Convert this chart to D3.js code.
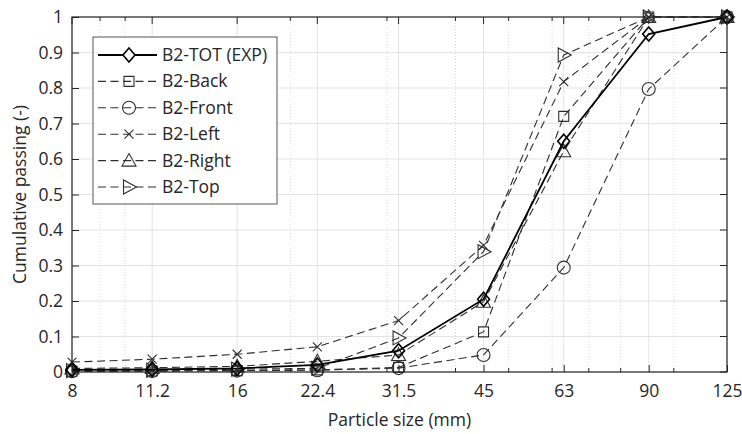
<!DOCTYPE html>
<html>
<head>
<meta charset="utf-8">
<script src="https://cdn.jsdelivr.net/npm/d3@7"></script>
<style>
  body { margin: 0; background: #fff; }
  svg { font-family: "Open Sans", "Noto Sans", sans-serif; }
</style>
</head>
<body>
<script>
// particle sizes (mm) and cumulative passing per sample
var sizes = [8, 11.2, 16, 22.4, 31.5, 45, 63, 90, 125];
var minorTicks = [9, 10, 20, 30, 40, 50, 60, 70, 80, 100];
var yTicks = [0, 0.1, 0.2, 0.3, 0.4, 0.5, 0.6, 0.7, 0.8, 0.9, 1];
var yTickLabels = ["0", "0.1", "0.2", "0.3", "0.4", "0.5", "0.6", "0.7", "0.8", "0.9", "1"];

var names = ["B2-TOT (EXP)", "B2-Back", "B2-Front", "B2-Left", "B2-Right", "B2-Top"];
var tot   = [0.006, 0.007, 0.010, 0.020, 0.060, 0.205, 0.650, 0.952, 1];
var back  = [0.002, 0.003, 0.004, 0.006, 0.013, 0.113, 0.720, 1, 1];
var front = [0.002, 0.003, 0.004, 0.005, 0.011, 0.048, 0.294, 0.797, 1];
var left  = [0.028, 0.036, 0.050, 0.071, 0.145, 0.357, 0.818, 1, 1];
var right = [0.010, 0.012, 0.016, 0.030, 0.048, 0.198, 0.622, 1, 1];
var top_  = [0.004, 0.005, 0.008, 0.010, 0.096, 0.339, 0.893, 1, 1];

(() => {
    var W = 742, H = 434;
    var margin = { top: 17, bottom: 62, left: 72, right: 15 };
    var w = W - margin.left - margin.right,
        h = H - margin.top - margin.bottom;
    var fs = "17.5px";

    var svg = d3.select("body").append("svg").attr("width", W).attr("height", H);
    var graph = svg.append("g").attr("transform", "translate(" + [margin.left, margin.top] + ")");

    var x = d3.scaleLog().domain([8, 125]).range([0, w]);
    var y = d3.scaleLinear().domain([0, 1]).range([h, 0]);

    var axisColor = "#262626";

    // minor grid (dotted)
    graph.append("g").selectAll("line").data(minorTicks).enter().append("line")
        .attr("x1", d => x(d)).attr("x2", d => x(d)).attr("y1", 0).attr("y2", h)
        .attr("stroke", "#d0d0d0").attr("stroke-width", 0.8).attr("stroke-dasharray", "1,2");

    // major grid
    graph.append("g").selectAll("line").data(sizes).enter().append("line")
        .attr("x1", d => x(d)).attr("x2", d => x(d)).attr("y1", 0).attr("y2", h)
        .attr("stroke", "#e3e3e3").attr("stroke-width", 1);
    graph.append("g").selectAll("line").data(yTicks).enter().append("line")
        .attr("x1", 0).attr("x2", w).attr("y1", d => y(d)).attr("y2", d => y(d))
        .attr("stroke", "#e3e3e3").attr("stroke-width", 1);

    // series
    var series = [
        { name: names[0], values: tot, marker: "diamond", solid: true },
        { name: names[1], values: back, marker: "square" },
        { name: names[2], values: front, marker: "circle" },
        { name: names[3], values: left, marker: "cross" },
        { name: names[4], values: right, marker: "triUp" },
        { name: names[5], values: top_, marker: "triRight" }
    ];

    function markerPath(type) {
        switch (type) {
            case "diamond": return "M0,-7L6,0L0,7L-6,0Z";
            case "square": return "M-5,-5H5V5H-5Z";
            case "circle": return "M6.5,0A6.5,6.5 0 1,1 -6.5,0A6.5,6.5 0 1,1 6.5,0Z";
            case "cross": return "M-4.5,-4.5L4.5,4.5M-4.5,4.5L4.5,-4.5";
            case "triUp": return "M0,-7L7,5.5L-7,5.5Z";
            case "triRight": return "M7.5,0L-5.5,-7L-5.5,7Z";
        }
    }

    var line = d3.line().x((d, i) => x(sizes[i])).y(d => y(d));
    var dashCol = "#2e2e2e";

    var drawOrder = [1, 2, 3, 4, 5, 0];
    drawOrder.forEach(k => {
        var s = series[k];
        var g = graph.append("g");
        g.append("path").attr("d", line(s.values)).attr("fill", "none")
            .attr("stroke", s.solid ? "#000" : dashCol)
            .attr("stroke-width", s.solid ? 1.8 : 1.1)
            .attr("stroke-dasharray", s.solid ? null : "8,4.5");
        g.selectAll(".mk").data(s.values).enter().append("path").attr("class", "mk")
            .attr("transform", (d, i) => "translate(" + [x(sizes[i]), y(d)] + ")")
            .attr("d", markerPath(s.marker))
            .attr("fill", "none")
            .attr("stroke", s.solid ? "#000" : dashCol)
            .attr("stroke-width", s.solid ? 1.6 : 1.1);
    });

    // box + ticks
    var xAxis = d3.axisBottom(x).tickValues(sizes).tickFormat(d => "" + d).tickSize(-7).tickPadding(13);
    var xg = graph.append("g").attr("transform", "translate(0," + h + ")").call(xAxis);
    var yAxis = d3.axisLeft(y).tickValues(yTicks).tickFormat((d, i) => yTickLabels[i]).tickSize(-7).tickPadding(9);
    var yg = graph.append("g").call(yAxis);
    [xg, yg].forEach(g => {
        g.select(".domain").remove();
        g.selectAll("line").attr("stroke", axisColor);
        g.selectAll("text").attr("fill", axisColor).style("font-size", fs)
            .style("font-family", "'Open Sans', sans-serif");
    });

    // top / right ticks
    var tk = graph.append("g").attr("stroke", axisColor).attr("stroke-width", 1);
    sizes.forEach(d => {
        tk.append("line").attr("x1", x(d)).attr("x2", x(d)).attr("y1", 0).attr("y2", 7);
    });
    minorTicks.forEach(d => {
        tk.append("line").attr("x1", x(d)).attr("x2", x(d)).attr("y1", 0).attr("y2", 4);
        tk.append("line").attr("x1", x(d)).attr("x2", x(d)).attr("y1", h).attr("y2", h - 4);
    });
    yTicks.forEach(d => {
        tk.append("line").attr("x1", w).attr("x2", w - 7).attr("y1", y(d)).attr("y2", y(d));
    });

    graph.append("rect").attr("width", w).attr("height", h)
        .attr("fill", "none").attr("stroke", axisColor).attr("stroke-width", 1.2);

    // axis labels
    svg.append("text").attr("x", margin.left + w / 2).attr("y", 426)
        .attr("text-anchor", "middle").attr("fill", axisColor).style("font-size", fs)
        .text("Particle size (mm)");
    svg.append("text").attr("transform", "translate(26," + (margin.top + h / 2) + ")rotate(-90)")
        .attr("text-anchor", "middle").attr("fill", axisColor).style("font-size", fs)
        .text("Cumulative passing (-)");

    // legend
    var lg = svg.append("g").attr("transform", "translate(93,37)");
    lg.append("rect").attr("width", 184).attr("height", 167)
        .attr("fill", "#fff").attr("stroke", "#555").attr("stroke-width", 1);
    series.forEach((s, i) => {
        var yy = 18 + i * 26.4;
        var row = lg.append("g").attr("transform", "translate(0," + yy + ")");
        row.append("line").attr("x1", 5).attr("x2", 64).attr("y1", 0).attr("y2", 0)
            .attr("stroke", s.solid ? "#000" : dashCol)
            .attr("stroke-width", s.solid ? 1.8 : 1.1)
            .attr("stroke-dasharray", s.solid ? null : "8,4.5");
        row.append("path").attr("transform", "translate(36,0)").attr("d", markerPath(s.marker))
            .attr("fill", s.solid ? "#fff" : "none")
            .attr("stroke", s.solid ? "#000" : dashCol).attr("stroke-width", s.solid ? 1.6 : 1.1);
        row.append("text").attr("x", 69).attr("y", 6).attr("fill", axisColor)
            .style("font-size", fs).text(s.name);
    });
})();
</script>
</body>
</html>
